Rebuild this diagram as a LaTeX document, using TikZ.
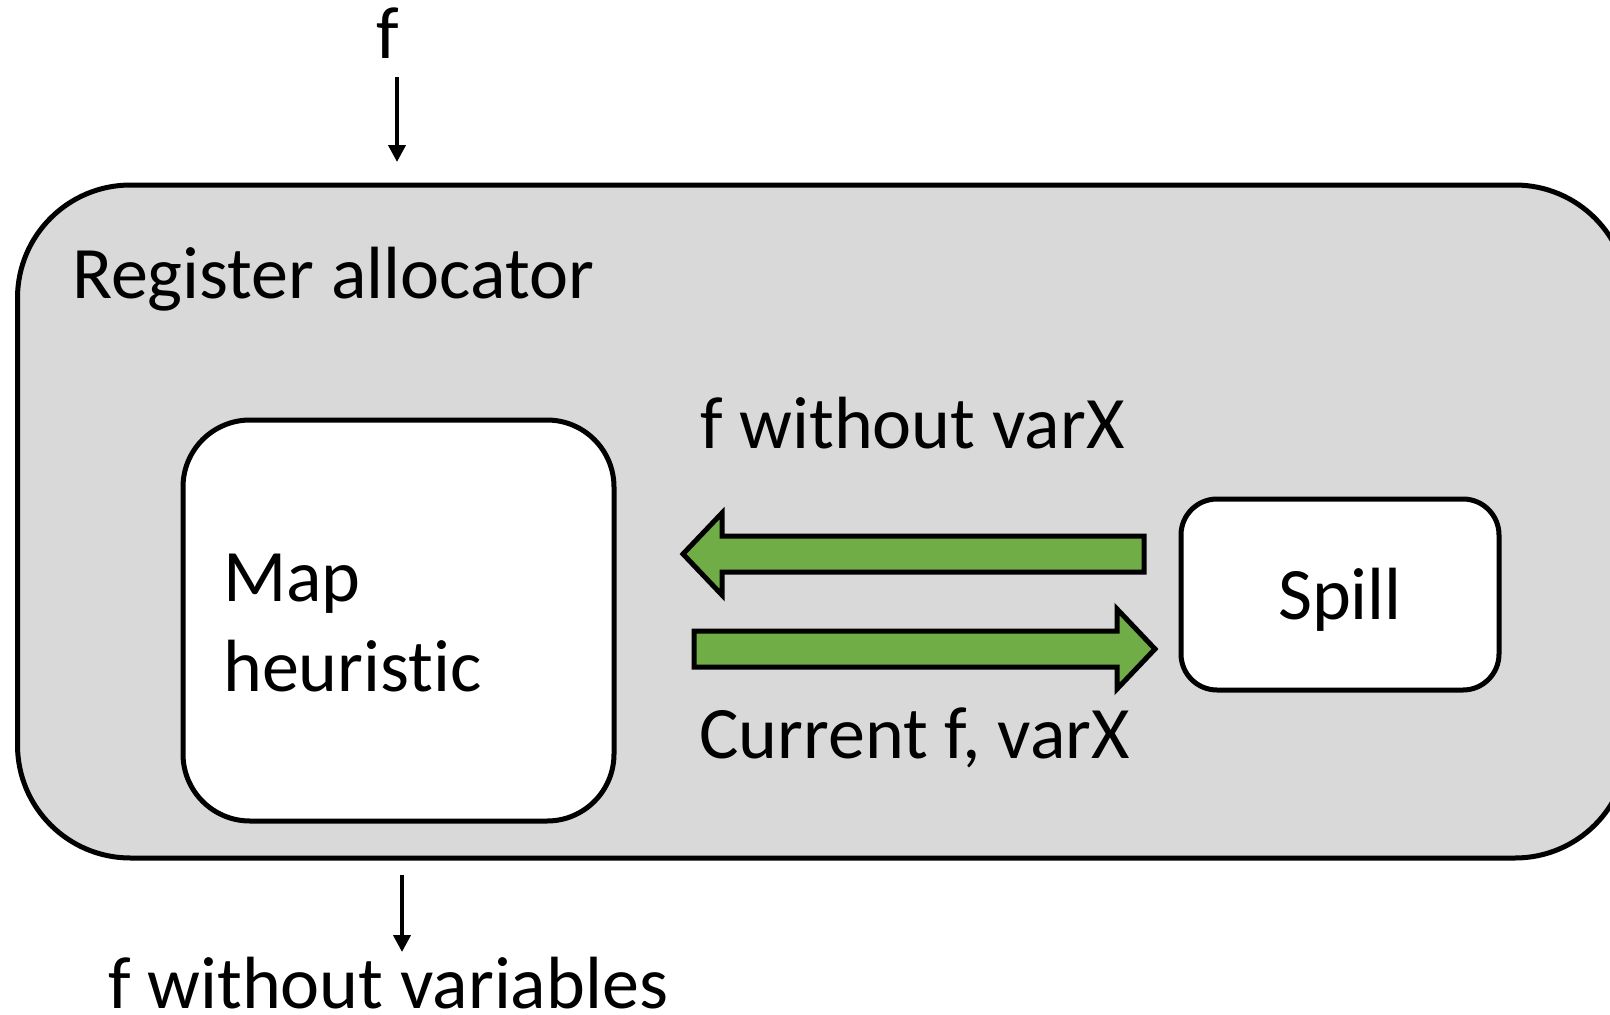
\documentclass[tikz,border=0pt]{standalone}
\usepackage{fontspec}
\setmainfont{Carlito}[Ligatures=NoCommon]
\usetikzlibrary{arrows.meta}
\definecolor{panelgray}{HTML}{D9D9D9}
\definecolor{flowgreen}{HTML}{70AD47}
\begin{document}
\begin{tikzpicture}[x=1pt,y=-1pt,
  txt/.style={font=\fontsize{74}{88}\selectfont, inner sep=0pt, text=black},
  outline/.style={draw=black, line width=5pt},
  box/.style={outline, fill=white, inner sep=0pt},
  flowarrow/.style={outline, fill=flowgreen, line join=miter},
  io/.style={line width=4pt, -{Triangle[length=17pt,width=17pt]}}
]
\useasboundingbox (0,0) rectangle (1610,1015);

% register allocator panel (runs off the right edge)
\begin{scope}
  \clip (0,0) rectangle (1610,1015);
  \draw[outline, fill=panelgray, rounded corners=113pt] (17.5,185) rectangle (1628,858);
\end{scope}
\node[txt, anchor=base west] (title) at (72,298) {Register allocator};

% inner boxes
\node[box, rounded corners=67pt, minimum width=431pt, minimum height=401pt] (map) at (398.5,620.5) {};
\node[txt, anchor=base west] (mapA) at (223,601) {Map};
\node[txt, anchor=base west] (mapB) at (223,691) {heuristic};

\node[box, rounded corners=36pt, minimum width=318pt, minimum height=191pt] (spill) at (1340,594.5) {};
\node[txt, anchor=base] (spilltext) at (1340,619) {Spill};

% block arrows between the boxes
\draw[flowarrow] (683,554) -- (722,513) -- (722,536) -- (1144,536) -- (1144,572)
  -- (722,572) -- (722,595) -- cycle;
\draw[flowarrow] (1155,649) -- (1117,609) -- (1117,631) -- (694,631) -- (694,667)
  -- (1117,667) -- (1117,689) -- cycle;

\node[txt, anchor=base west] (backlabel) at (700,448) {f without varX};
\node[txt, anchor=base west] (fwdlabel) at (699,758) {Current f, varX};

% input and output
\node[txt, anchor=base] (fin) at (388,58) {f};
\coordinate (inStart) at (397,77);
\coordinate (inEnd) at (397,162);
\draw[io] (inStart) -- (inEnd);

\coordinate (outStart) at (402,875);
\coordinate (outEnd) at (402,952);
\draw[io] (outStart) -- (outEnd);
\node[txt, anchor=base west] (fout) at (108,1008) {f without variables};
\end{tikzpicture}
\end{document}
